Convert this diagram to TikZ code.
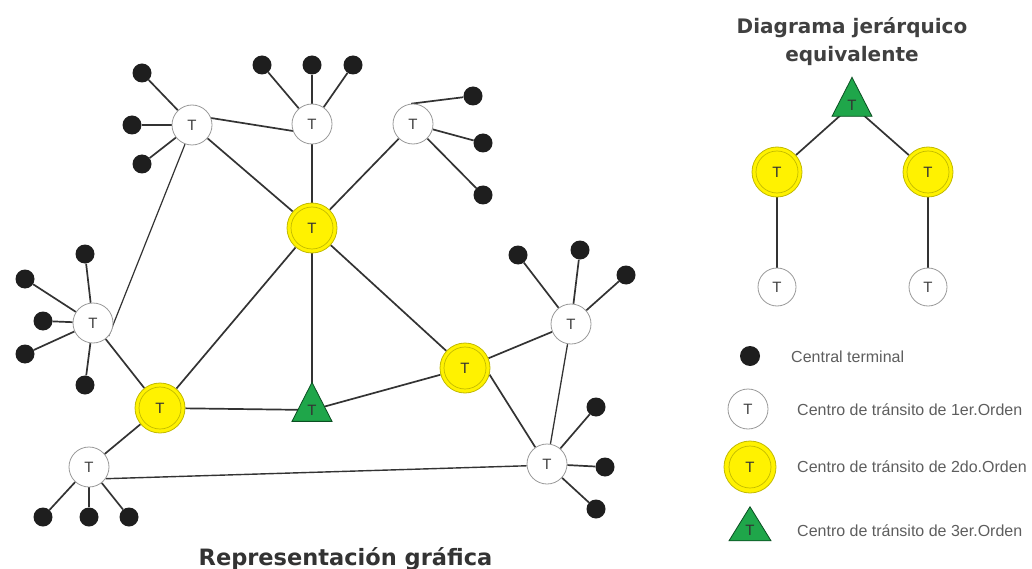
\documentclass[tikz,border=0pt]{standalone}
\usepackage{fontspec}
\setmainfont{Liberation Sans}
\newfontfamily\titlefont{DejaVu Sans}
\usetikzlibrary{shapes.geometric,backgrounds}
\definecolor{edgec}{HTML}{333333}
\definecolor{yel}{HTML}{FFF200}
\definecolor{yelline}{HTML}{C2BA00}
\definecolor{grn}{HTML}{1FA64A}
\definecolor{grnline}{HTML}{0B4F22}
\definecolor{circline}{HTML}{9A9A9A}
\definecolor{txtgray}{HTML}{5E5E5E}
\definecolor{termc}{HTML}{1E1E1E}
\begin{document}
\begin{tikzpicture}[x=1pt,y=-1pt,
  term/.style={circle,fill=termc,minimum size=19pt,inner sep=0pt},
  tone/.style={circle,draw=circline,line width=0.8pt,fill=white,minimum size=40pt,inner sep=0pt,
    font=\fontsize{15}{15}\selectfont,text=black!75},
  ttwo/.style={circle,draw=yelline,line width=0.8pt,fill=yel,minimum size=50pt,inner sep=0pt,
    font=\fontsize{15}{15}\selectfont,text=black!80,
    path picture={\draw[yelline,line width=0.7pt] (path picture bounding box.center) circle (21pt);}},
  tthree/.style={isosceles triangle,isosceles triangle stretches,shape border rotate=90,
    minimum width=40pt,minimum height=39pt,inner sep=0pt,fill=grn,draw=grnline,line width=0.8pt,
    font=\fontsize{15}{15}\selectfont,text=black!80},
  link/.style={draw=edgec,line width=1.7pt},
  legtext/.style={anchor=west,font=\fontsize{16}{16}\selectfont,text=txtgray,inner sep=0pt},
  titletext/.style={font=\titlefont\bfseries\fontsize{20}{28}\selectfont,text=black!75,align=center,inner sep=0pt},
]
\useasboundingbox (0,0) rectangle (1032,569);

% ---------- main network ----------
\node[ttwo] (Y1) at (312,228) {T};
\node[tone] (TL) at (192,125) {T};
\node[tone] (TM) at (312,124) {T};
\node[tone] (TR) at (413,124) {T};
\node[tone] (TLf) at (93,323) {T};
\node[ttwo] (Y2) at (160,408) {T};
\node[tthree] (G) at (312,410) {T};
\node[ttwo] (Y3) at (465,368) {T};
\node[tone] (TRt) at (571,324) {T};
\node[tone] (TBL) at (89,467) {T};
\node[tone] (TBR) at (547,464) {T};

% terminals
\node[term] (a1) at (142,73) {};
\node[term] (a2) at (132,125) {};
\node[term] (a3) at (142,164) {};
\node[term] (b1) at (262,65) {};
\node[term] (b2) at (312,65) {};
\node[term] (b3) at (353,65) {};
\node[term] (c1) at (473,96) {};
\node[term] (c2) at (483,143) {};
\node[term] (c3) at (483,195) {};
\node[term] (d1) at (85,254) {};
\node[term] (d2) at (25,279) {};
\node[term] (d3) at (43,321) {};
\node[term] (d4) at (25,354) {};
\node[term] (d5) at (85,385) {};
\node[term] (e1) at (518,255) {};
\node[term] (e2) at (580,250) {};
\node[term] (e3) at (626,275) {};
\node[term] (f1) at (596,407) {};
\node[term] (f2) at (605,467) {};
\node[term] (f3) at (596,509) {};
\node[term] (g1) at (43,517) {};
\node[term] (g2) at (89,517) {};
\node[term] (g3) at (129,517) {};

% ---------- hierarchical diagram ----------
\node[titletext] (title2) at (852,42) {Diagrama jerárquico\\equivalente};
\node[tthree] (Gh) at (852,105) {T};
\node[ttwo] (H1) at (777,172) {T};
\node[ttwo] (H2) at (928,172) {T};
\node[tone,minimum size=38pt] (H3) at (777,287) {T};
\node[tone,minimum size=38pt] (H4) at (928,287) {T};

% ---------- legend ----------
\node[term,minimum size=20pt] (L1) at (750,356) {};
\node[tone] (L2) at (748,409) {T};
\node[ttwo,minimum size=52pt] (L3) at (750,467) {T};
\node[tthree,minimum width=42pt,minimum height=34pt] (L4) at (750,530) {T};
\node[legtext] (lt1) at (791,357) {Central terminal};
\node[legtext] (lt2) at (797,410) {Centro de tránsito de 1er.Orden};
\node[legtext] (lt3) at (797,467) {Centro de tránsito de 2do.Orden};
\node[legtext] (lt4) at (797,531) {Centro de tránsito de 3er.Orden};

% bottom title
\node[font=\titlefont\bfseries\fontsize{22.5}{27}\selectfont,text=black!80,anchor=base,inner sep=0pt] (title1) at (345.5,565) {Representación gráfica};

% ---------- connectors ----------
\begin{scope}[on background layer]
  \fill[white] (0,0) rectangle (1032,569);
  \path[link] (TL.20) -- (TM.200);
  \path[link] (TL) -- (Y1);
  \path[link] (TM) -- (Y1);
  \path[link] (TR) -- (Y1);
  \path[link,line width=1.2pt] (TL.250) -- (TLf.-40);
  \path[link] (TLf) -- (Y2);
  \path[link] (Y2) -- (Y1);
  \path[link] (Y1) -- (G.center);
  \path[link] (Y1) -- (Y3);
  \path[link] (Y2) -- (G.center);
  \path[link] (G.center) -- (Y3);
  \path[link] (Y3) -- (TRt);
  \path[link] (Y3.-15) -- (TBR.125);
  \path[link,line width=1.3pt] (TRt) -- (TBR);
  \path[link] (Y2) -- (TBL);
  \path[link,line width=1.4pt] (TBL.-35) -- (TBR.185);
  \foreach \t in {a1,a2,a3} \path[link] (\t) -- (TL);
  \foreach \t in {b1,b2,b3} \path[link] (\t) -- (TM);
  \path[link] (c1) -- (TR.95);
  \foreach \t in {c2,c3} \path[link] (\t) -- (TR);
  \foreach \t in {d1,d2,d3,d4,d5} \path[link] (\t) -- (TLf);
  \foreach \t in {e1,e2,e3} \path[link] (\t) -- (TRt);
  \foreach \t in {f1,f2,f3} \path[link] (\t) -- (TBR);
  \foreach \t in {g1,g2,g3} \path[link] (\t) -- (TBL);
  \path[link] (Gh.center) -- (H1);
  \path[link] (Gh.center) -- (H2);
  \path[link] (H1) -- (H3);
  \path[link] (H2) -- (H4);
\end{scope}
\end{tikzpicture}
\end{document}
